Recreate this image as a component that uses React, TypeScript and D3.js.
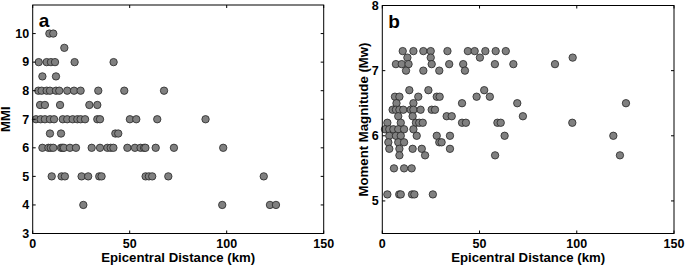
import React from "react";
import * as d3 from "d3";

// Panel a: epicentral distance (km) vs MMI
const mmiDist10 = [8.6, 10.6];
const mmiDist95 = [16.3];
const mmiDist9 = [3.1, 7.2, 9.4, 11.5, 21.6, 41.7];
const mmiDist85 = [5.0, 12.0];
const mmiDist8 = [2.9, 4.6, 7.2, 8.9, 12.0, 13.7, 17.8, 21.3, 24.7, 33.8, 47.2, 67.7];
const mmiDist75 = [3.8, 6.3, 14.1, 29.2, 33.3];
const mmiDist7 = [1.7, 4.1, 6.3, 8.9, 11.0, 15.5, 17.8, 20.6, 23.0, 24.7, 27.0, 33.3, 34.7, 50.1, 53.4, 64.2, 89.1];
const mmiDist65 = [8.9, 14.6, 42.6, 44.1];
const mmiDist6 = [5.0, 8.1, 9.3, 10.6, 14.6, 15.4, 16.1, 19.2, 22.3, 30.4, 34.7, 38.5, 40.2, 41.6, 48.8, 52.7, 55.6, 57.4, 58.1, 63.4, 72.8, 98.2];
const mmiDist5 = [9.8, 14.9, 16.6, 25.2, 28.6, 34.3, 35.5, 58.2, 59.9, 61.6, 69.9, 119.1];
const mmiDist4 = [26.1, 97.7, 122.3, 125.4];

const mmiLevels = [10, 9.5, 9, 8.5, 8, 7.5, 7, 6.5, 6, 5, 4];
const mmiRows = [mmiDist10, mmiDist95, mmiDist9, mmiDist85, mmiDist8, mmiDist75, mmiDist7, mmiDist65, mmiDist6, mmiDist5, mmiDist4];

// Panel b: epicentral distance (km) vs moment magnitude
const mwDist73 = [10.5, 16, 21.1, 24.9, 33.5, 44, 47.5, 53, 58.3, 63.5];
const mwDist72 = [12.9, 24.9, 50.2, 97.9];
const mwDist71 = [7, 10, 13.5, 25.4, 34.4, 41.6, 57.9, 67.4, 88.8];
const mwDist70 = [12.2, 21.1, 29.3, 42.5];
const mwDist67 = [13.9, 23.7, 52.4];
const mwDist66 = [6.5, 8.8, 18.5, 28, 29.5, 48.5, 55.3];
const mwDist65 = [7.3, 16, 41, 69.4, 125.3];
const mwDist64 = [5.3, 7.0, 8.8, 10.8, 14.6, 16, 19.7, 25.4, 27.1];
const mwDist63 = [8.2, 15.6, 33.1, 35.7, 72.3];
const mwDist62 = [2.6, 9.5, 17.3, 19.0, 20.8, 41, 43, 59.2, 60.9, 97.7];
const mwDist61 = [1.4, 3.6, 5.7, 8.2, 11.2, 16];
const mwDist60 = [3.6, 7.0, 9.5, 17.7, 28.0, 34.8, 62.9, 118.8];
const mwDist59 = [3.1, 8.2, 11.2, 29.3, 30.5];
const mwDist58 = [3.6, 8.8, 15.6, 20.3, 34.8];
const mwDist57 = [8.8, 22, 58, 122.2];
const mwDist55 = [6.0, 11.2, 15.1];
const mwDist51 = [2.6, 8.7, 9.5, 15.3, 16.5, 26];

const mwLevels = [7.3, 7.2, 7.1, 7.0, 6.7, 6.6, 6.5, 6.4, 6.3, 6.2, 6.1, 6.0, 5.9, 5.8, 5.7, 5.5, 5.1];
const mwRows = [mwDist73, mwDist72, mwDist71, mwDist70, mwDist67, mwDist66, mwDist65, mwDist64, mwDist63, mwDist62, mwDist61, mwDist60, mwDist59, mwDist58, mwDist57, mwDist55, mwDist51];

const xTicks = [0, 50, 100, 150];
const mmiTicks = [3, 4, 5, 6, 7, 8, 9, 10];
const mwTicks = [5, 6, 7, 8];

const FONT = "'Liberation Sans', Arial, Helvetica, sans-serif";
const TICK_FS = 12.5;
const LABEL_FS = 13.2;

function flatten(levels: number[], rows: number[][]) {
  const out: { x: number; y: number }[] = [];
  rows.forEach((r, i) => r.forEach((x) => out.push({ x, y: levels[i] })));
  return out;
}

type PanelProps = {
  left: number;
  right: number;
  top: number;
  bottom: number;
  yDomain: [number, number];
  yTicks: number[];
  points: { x: number; y: number }[];
  letter: string;
  yLabel: string;
  yLabelX: number;
};

function Panel(p: PanelProps) {
  const x = d3.scaleLinear().domain([0, 150]).range([p.left, p.right]);
  const y = d3.scaleLinear().domain(p.yDomain).range([p.bottom, p.top]);
  const tl = 3;
  return (
    <g>
      <rect x={p.left} y={p.top} width={p.right - p.left} height={p.bottom - p.top} fill="white" />
      {p.points.map((d, i) => (
        <circle key={i} cx={x(d.x)} cy={y(d.y)} r={3.7} fill="#808080" stroke="#262626" strokeWidth={0.8} />
      ))}
      <rect x={p.left} y={p.top} width={p.right - p.left} height={p.bottom - p.top} fill="none" stroke="#000" strokeWidth={1} />
      {xTicks.map((t) => (
        <g key={"x" + t}>
          <line x1={x(t)} x2={x(t)} y1={p.bottom} y2={p.bottom - tl} stroke="#000" />
          <line x1={x(t)} x2={x(t)} y1={p.top} y2={p.top + tl} stroke="#000" />
          <text x={x(t)} y={248.3} textAnchor="middle" fontFamily={FONT} fontWeight="bold" fontSize={TICK_FS}>
            {t}
          </text>
        </g>
      ))}
      {p.yTicks.map((t) => (
        <g key={"y" + t}>
          <line x1={p.left} x2={p.left + tl} y1={y(t)} y2={y(t)} stroke="#000" />
          <line x1={p.right} x2={p.right - tl} y1={y(t)} y2={y(t)} stroke="#000" />
          <text x={p.left - 3.5} y={y(t) + 4.3} textAnchor="end" fontFamily={FONT} fontWeight="bold" fontSize={TICK_FS}>
            {t}
          </text>
        </g>
      ))}
      <text x={(p.left + p.right) / 2} y={261.5} textAnchor="middle" fontFamily={FONT} fontWeight="bold" fontSize={LABEL_FS}>
        Epicentral Distance (km)
      </text>
      <text
        transform={`translate(${p.yLabelX},${(p.top + p.bottom) / 2}) rotate(-90)`}
        textAnchor="middle"
        fontFamily={FONT}
        fontWeight="bold"
        fontSize={LABEL_FS}
      >
        {p.yLabel}
      </text>
      <text x={p.left + 6} y={p.top + 22} fontFamily={FONT} fontWeight="bold" fontSize={19}>
        {p.letter}
      </text>
    </g>
  );
}

export default function App() {
  const ptsA = flatten(mmiLevels, mmiRows);
  const ptsB = flatten(mwLevels, mwRows);
  return (
    <svg width={685} height={265} style={{ position: "absolute", left: 0, top: 0, background: "white" }}>
      <Panel
        left={32.7}
        right={323.7}
        top={5}
        bottom={233.5}
        yDomain={[3, 11]}
        yTicks={mmiTicks}
        points={ptsA}
        letter="a"
        yLabel="MMI"
        yLabelX={10}
      />
      <Panel
        left={382.3}
        right={674}
        top={5.5}
        bottom={233.5}
        yDomain={[4.5, 8]}
        yTicks={mwTicks}
        points={ptsB}
        letter="b"
        yLabel="Moment Magnitude (Mw)"
        yLabelX={367.5}
      />
    </svg>
  );
}
